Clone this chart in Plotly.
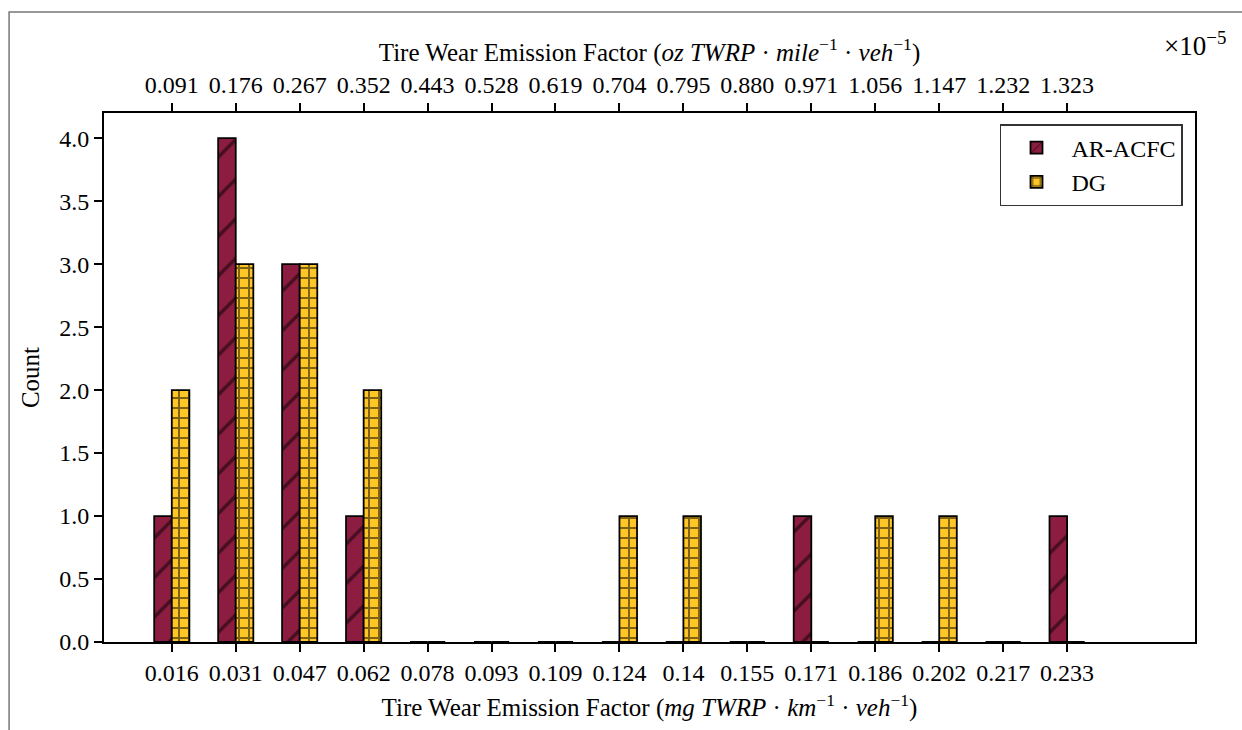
import plotly.graph_objects as go

bottom_labels = ["0.016", "0.031", "0.047", "0.062", "0.078", "0.093", "0.109", "0.124",
                 "0.14", "0.155", "0.171", "0.186", "0.202", "0.217", "0.233"]
top_labels = ["0.091", "0.176", "0.267", "0.352", "0.443", "0.528", "0.619", "0.704",
              "0.795", "0.880", "0.971", "1.056", "1.147", "1.232", "1.323"]
ar_acfc = [1, 4, 3, 1, 0, 0, 0, 0, 0, 0, 1, 0, 0, 0, 1]
dg = [2, 3, 3, 2, 0, 0, 0, 1, 1, 0, 0, 1, 1, 0, 0]

MAROON = "#8C1D40"
GOLD = "#FFC627"
FONT = "Liberation Serif"
FS = 24
idx = list(range(len(bottom_labels)))
BW = 0.275
XR = [-1.06, 16.0]

fig = go.Figure()
fig.add_trace(go.Bar(
    x=idx, y=ar_acfc, name="AR-ACFC", width=BW, offset=-BW,
    marker=dict(color=MAROON, line=dict(color="black", width=1.8),
                pattern=dict(shape="/", size=28, solidity=0.12, fgcolor="black", bgcolor=MAROON)),
))
fig.add_trace(go.Bar(
    x=idx, y=dg, name="DG", width=BW, offset=0,
    marker=dict(color=GOLD, line=dict(color="black", width=1.8),
                pattern=dict(shape="+", size=10, solidity=0.36, fgcolor="black", bgcolor=GOLD)),
))
# invisible trace to activate the top axis
fig.add_trace(go.Scatter(x=idx, y=[None] * len(idx), xaxis="x2", yaxis="y",
                         showlegend=False, hoverinfo="skip", mode="markers"))

axis_common = dict(showline=True, linecolor="black", linewidth=2, ticks="outside",
                   ticklen=8, tickwidth=1.5, tickcolor="black", showgrid=False,
                   zeroline=False, tickfont=dict(family=FONT, size=FS, color="black"))

fig.update_layout(
    width=1242, height=730,
    margin=dict(l=104, r=47, t=113, b=88),
    paper_bgcolor="white", plot_bgcolor="white",
    font=dict(family=FONT, size=FS, color="black"),
    barmode="overlay",
    xaxis=dict(range=XR, tickvals=idx, ticktext=bottom_labels, mirror=True,
               title=dict(text="Tire Wear Emission Factor (<i>mg TWRP</i> · <i>km</i><sup>−1</sup> · <i>veh</i><sup>−1</sup>)",
                          font=dict(family=FONT, size=FS + 1), standoff=14),
               **axis_common),
    xaxis2=dict(range=XR, tickvals=idx, ticktext=top_labels, overlaying="x", side="top",
                anchor="y",
                title=dict(text="Tire Wear Emission Factor (<i>oz TWRP</i> · <i>mile</i><sup>−1</sup> · <i>veh</i><sup>−1</sup>)",
                           font=dict(family=FONT, size=FS + 1), standoff=4),
                **axis_common),
    yaxis=dict(range=[0, 4.2], tickvals=[0, 0.5, 1, 1.5, 2, 2.5, 3, 3.5, 4], tickformat=".1f",
               mirror=True,
               title=dict(text="Count", font=dict(family=FONT, size=FS + 1), standoff=12),
               **axis_common),
    legend=dict(x=0.989, y=0.979, xanchor="right", yanchor="top",
                bordercolor="#333333", borderwidth=1.5, bgcolor="white",
                font=dict(family=FONT, size=FS, color="black"),
                itemwidth=60, tracegroupgap=4),
    showlegend=True,
)

fig.add_annotation(text="×10<sup>−5</sup>", xref="paper", yref="paper", x=1.0, y=1.13,
                   xanchor="center", yanchor="middle", showarrow=False,
                   font=dict(family=FONT, size=27, color="black"))

# outer border of the figure
fig.add_shape(type="rect", xref="paper", yref="paper", x0=-0.087, y0=-0.3, x1=1.2, y1=1.191,
              line=dict(color="#777777", width=1.5), fillcolor="rgba(0,0,0,0)", layer="below")

fig.write_html("out.html")
